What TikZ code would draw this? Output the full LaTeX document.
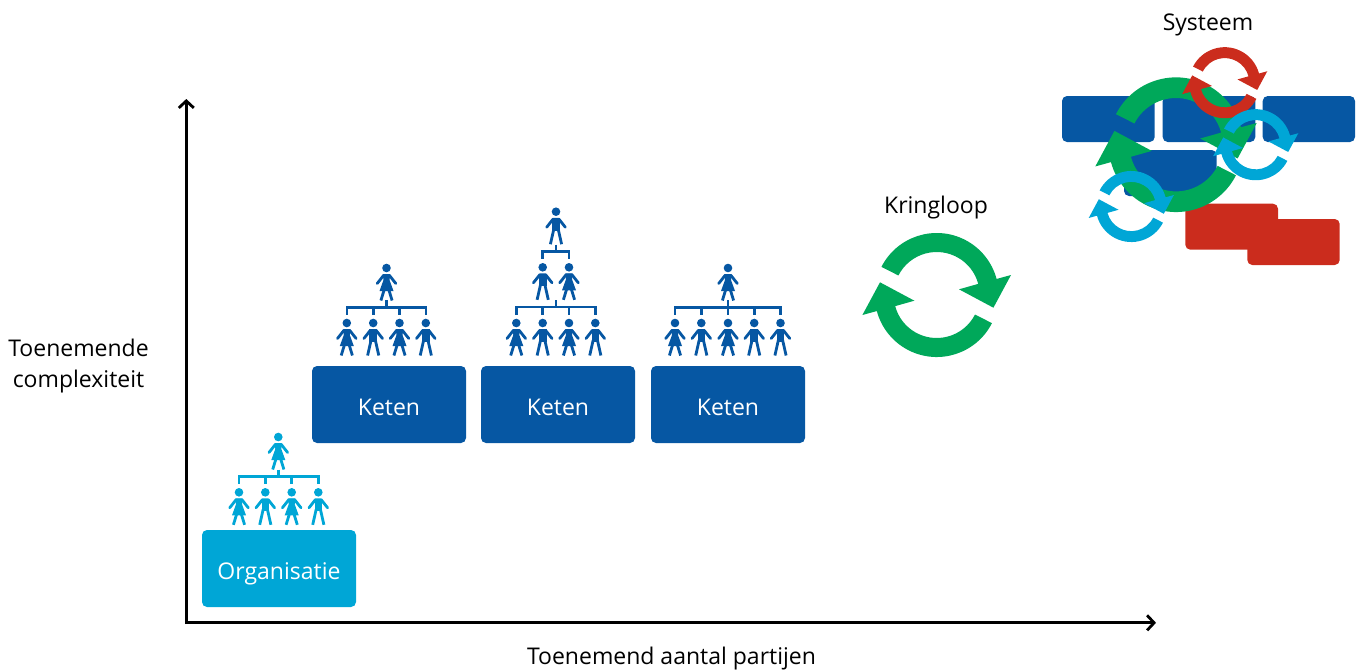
\documentclass[tikz,border=0pt]{standalone}
\usepackage{fontspec}
\setmainfont{Open Sans}
\usetikzlibrary{arrows.meta}
\definecolor{dkblue}{HTML}{0657A3}
\definecolor{ltblue}{HTML}{00A6D6}
\definecolor{cycgreen}{HTML}{00A85A}
\definecolor{cycred}{HTML}{CB2C1D}
\newcommand{\cycarm}{%
  (153:62) arc[start angle=153,end angle=15,radius=62]
  -- (74.3,20) -- (56.7,-12.7) -- (22.3,5.7) -- (15:43)
  arc[start angle=15,end angle=153,radius=43] -- cycle}
% centre x, centre y, scale, colour
\newcommand{\cyc}[4]{%
  \begin{scope}[shift={(#1,#2)},y=1pt,x=1pt,scale=#3,transform shape]
    \fill[#4] \cycarm;
    \fill[#4,rotate=180] \cycarm;
  \end{scope}}
% x, y of head centre, colour
\newcommand{\persbase}[3]{%
  \fill[#3] (#1,#2) circle[radius=4.3];
  \draw[#3,line width=2.8,line join=round,line cap=round] (#1-9.3,#2+15.5) -- (#1-3,#2+7.5) -- (#1+3,#2+7.5) -- (#1+9.3,#2+15.5);}
\newcommand{\persm}[3]{\persbase{#1}{#2}{#3}%
  \fill[#3] (#1-3.8,#2+6.3) rectangle (#1+3.8,#2+19);
  \draw[#3,line width=2.8] (#1-2.1,#2+17) -- (#1-5.6,#2+32.5) (#1+2.1,#2+17) -- (#1+5.6,#2+32.5);}
\newcommand{\persf}[3]{\persbase{#1}{#2}{#3}%
  \fill[#3] (#1-3.8,#2+6.3) -- (#1+3.8,#2+6.3) -- (#1+3,#2+12) -- (#1+7,#2+23) -- (#1-7,#2+23) -- (#1-3,#2+12) -- cycle;
  \draw[#3,line width=2.8] (#1-2.4,#2+22) -- (#1-5.6,#2+32.5) (#1+2.4,#2+22) -- (#1+5.6,#2+32.5);}
% tree connector: top x, y of bar, left x, right x, list of drop x, colour
\newcommand{\tree}[6]{%
  \draw[#6,line width=2.6] (#1,#2-7) -- (#1,#2);
  \draw[#6,line width=2.6,line cap=rect] (#3,#2) -- (#4,#2);
  \foreach \dx in {#5} {\draw[#6,line width=2.6] (\dx,#2-1) -- (\dx,#2+7.5);}}
\tikzset{
  axisline/.style={line width=2.7,black,-{Straight Barb[length=7pt,width=15pt,line width=2.8pt]}},
  lbl/.style={font=\fontsize{23}{31}\selectfont,text=black,align=center,inner sep=0},
  boxlbl/.style={font=\fontsize{23}{31}\selectfont,text=white,inner sep=0}
}
\begin{document}
\begin{tikzpicture}[x=1pt,y=-1pt]
\useasboundingbox (0,0) rectangle (1363,670);
\coordinate (ytip) at (186.3,99);
\coordinate (xtip) at (1156,622.8);
\draw[axisline] (186.3,624) -- (ytip);
\draw[axisline] (185,622.8) -- (xtip);
\node[lbl] (yl) at (78.5,366.5) {Toenemende\\complexiteit};
\node[lbl] (xl) at (671.5,658.5) {Toenemend aantal partijen};
\node[lbl] (kl) at (936,207.5) {Kringloop};
\node[lbl] (sl) at (1208,24.5) {Systeem};
% boxes
\fill[ltblue,rounded corners=5] (202,530) rectangle (356,607);
\node[boxlbl] (b0) at (279,574) {Organisatie};
\fill[dkblue,rounded corners=5] (312,366) rectangle (466,443);
\node[boxlbl] (b1) at (389,407) {Keten};
\fill[dkblue,rounded corners=5] (481,366) rectangle (635,443);
\node[boxlbl] (b2) at (558,407) {Keten};
\fill[dkblue,rounded corners=5] (651,366) rectangle (805,443);
\node[boxlbl] (b3) at (728,407) {Keten};
% organisatie people
\persf{278.3}{437}{ltblue}
\tree{278.3}{476.7}{239}{318.3}{239,265.3,291.7,318.3}{ltblue}
\persf{239}{492.3}{ltblue}\persm{265.3}{492.3}{ltblue}\persf{291.7}{492.3}{ltblue}\persm{318.3}{492.3}{ltblue}
% keten 1
\persf{386.5}{268}{dkblue}
\tree{386.5}{307.4}{346.8}{425.8}{346.8,373.2,399.5,425.8}{dkblue}
\persf{346.8}{323}{dkblue}\persm{373.2}{323}{dkblue}\persf{399.5}{323}{dkblue}\persm{425.8}{323}{dkblue}
% keten 2
\persm{556}{211.7}{dkblue}
\tree{556}{251.7}{542.7}{569}{542.7,569}{dkblue}
\persm{542.7}{267.3}{dkblue}\persf{569}{267.3}{dkblue}
\tree{556}{307}{516.3}{595.3}{516.3,542.7,569,595.3}{dkblue}
\persf{516.3}{323}{dkblue}\persm{542.7}{323}{dkblue}\persf{569}{323}{dkblue}\persm{595.3}{323}{dkblue}
% keten 3
\persf{728}{268}{dkblue}
\tree{728}{307.4}{675}{780.5}{675,701.3,728,754.2,780.5}{dkblue}
\persf{675}{323}{dkblue}\persm{701.3}{323}{dkblue}\persf{728}{323}{dkblue}\persm{754.2}{323}{dkblue}\persm{780.5}{323}{dkblue}
% kringloop
\cyc{936.7}{295}{1}{cycgreen}
% systeem
\fill[dkblue,rounded corners=5] (1062,96) rectangle (1154.7,142);
\fill[dkblue,rounded corners=5] (1162.7,96) rectangle (1255.3,142);
\fill[dkblue,rounded corners=5] (1262.7,96) rectangle (1355,142);
\fill[dkblue,rounded corners=5] (1124,150) rectangle (1216.7,196);
\fill[cycred,rounded corners=5] (1185.3,203.7) rectangle (1278,249.7);
\fill[cycred,rounded corners=5] (1247.3,219) rectangle (1339.7,265);
\cyc{1176}{144.7}{1.086}{cycgreen}
\cyc{1224.7}{82.7}{0.573}{cycred}
\cyc{1255.7}{144.7}{0.573}{ltblue}
\cyc{1131.3}{206.5}{0.573}{ltblue}
\end{tikzpicture}
\end{document}
